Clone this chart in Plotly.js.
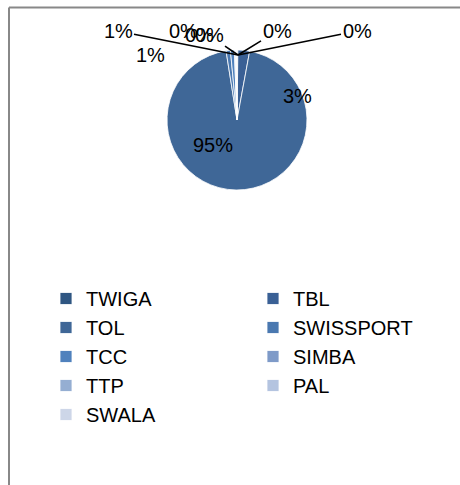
<!DOCTYPE html>
<html><head><meta charset="utf-8">
<script src="https://cdn.plot.ly/plotly-3.0.1.min.js"></script>
<style>html,body{margin:0;padding:0;background:#fff}#c{width:460px;height:485px}</style>
</head><body><div id="c"></div>
<script>
const categories = ["TWIGA","TBL","TOL","SWISSPORT","TCC","SIMBA","TTP","PAL","SWALA"];
const values = [0.2, 2.7, 94.6, 1.0, 0.9, 0.2, 0.2, 0.1, 0.1];
const colors = ["#2F5682","#3A6095","#3F6797","#4A78B0","#4F81BD","#7E9AC8","#95AED2","#B4C4E0","#CDD6E8"];

const W = 460, H = 485;
const FONT = 'Liberation Sans, Arial, sans-serif';
// pie domain in pixels
const PIE = {x0: 167, x1: 307, y0: 50, y1: 190};
const cx = (PIE.x0 + PIE.x1) / 2;

// data-label placement (pixels), Excel style: [category, labelX, labelY, leaderLine]
const labelPos = [
  ["TWIGA", 277, 31, true],
  ["TBL", 297, 96, false],
  ["TOL", 213, 145, false],
  ["SWISSPORT", 150, 55, false],
  ["TCC", 118, 31, true],
  ["SIMBA", 183, 31, false],
  ["TTP", 199, 35, false],
  ["PAL", 209, 35, true],
  ["SWALA", 357, 31, true]
];

const total = values.reduce((a, b) => a + b, 0);
const pctText = v => Math.round(v / total * 100) + '%';

const trace = {
  type: 'pie',
  labels: categories,
  values: values,
  sort: false,
  direction: 'clockwise',
  rotation: 0,
  marker: {colors: colors, line: {color: '#ffffff', width: 0.8}},
  textinfo: 'none',
  textposition: 'none',
  domain: {x: [PIE.x0 / W, PIE.x1 / W], y: [1 - PIE.y1 / H, 1 - PIE.y0 / H]},
  hoverinfo: 'label+percent'
};

const tipX = cx + 1, tipY = PIE.y0 + 5;
const annotations = labelPos.map(([cat, lx, ly, line]) => {
  const v = values[categories.indexOf(cat)];
  const base = {
    text: pctText(v), xref: 'paper', yref: 'paper',
    xanchor: 'center', yanchor: 'middle',
    font: {family: FONT, size: 20, color: '#000'}
  };
  if (line) {
    return Object.assign(base, {
      x: tipX / W, y: 1 - tipY / H,
      showarrow: true, arrowhead: 0, arrowwidth: 1.6, arrowcolor: '#000',
      ax: lx - tipX, ay: ly - tipY, axref: 'pixel', ayref: 'pixel', standoff: 0
    });
  }
  return Object.assign(base, {x: lx / W, y: 1 - ly / H, showarrow: false});
});

const layout = {
  width: W, height: H,
  margin: {l: 0, r: 0, t: 0, b: 0},
  paper_bgcolor: '#fff',
  showlegend: true,
  legend: {
    orientation: 'h',
    x: 61 / W, y: 1 - 279 / H, xanchor: 'left', yanchor: 'top',
    entrywidth: 162, entrywidthmode: 'pixels',
    font: {family: FONT, size: 20, color: '#000'},
    traceorder: 'normal'
  },
  annotations: annotations,
  shapes: [
    {type: 'line', xref: 'paper', yref: 'paper', x0: 9 / W, x1: 1, y0: 1 - 7.5 / H, y1: 1 - 7.5 / H, line: {color: '#888', width: 2}},
    {type: 'line', xref: 'paper', yref: 'paper', x0: 9 / W, x1: 9 / W, y0: 0, y1: 1 - 7.5 / H, line: {color: '#888', width: 2}}
  ]
};
Plotly.newPlot('c', [trace], layout, {displayModeBar: false, staticPlot: true});
</script>
</body></html>
